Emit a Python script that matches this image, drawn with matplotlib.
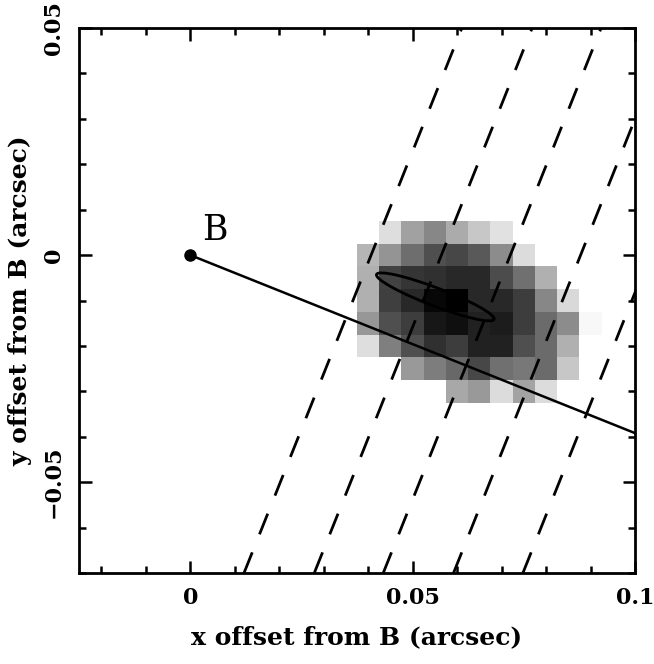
import numpy as np
import matplotlib
matplotlib.use("Agg")
import matplotlib.pyplot as plt
from matplotlib.patches import Ellipse
from matplotlib.ticker import FixedLocator, MultipleLocator

# ---- data ----
pix_x = [0.040, 0.045, 0.050, 0.055, 0.060, 0.065, 0.070, 0.075, 0.080, 0.085, 0.090]
pix_y = [0.005, 0.000, -0.005, -0.010, -0.015, -0.020, -0.025, -0.030]
# intensity (0 = white, 1 = black), rows follow pix_y, columns follow pix_x
flux = [
    [0.00, 0.13, 0.37, 0.47, 0.33, 0.22, 0.12, 0.00, 0.00, 0.00, 0.00],
    [0.29, 0.42, 0.57, 0.69, 0.72, 0.65, 0.45, 0.14, 0.00, 0.00, 0.00],
    [0.31, 0.74, 0.79, 0.81, 0.84, 0.84, 0.70, 0.56, 0.31, 0.00, 0.00],
    [0.31, 0.75, 0.84, 0.97, 1.00, 0.84, 0.84, 0.76, 0.47, 0.15, 0.00],
    [0.41, 0.69, 0.76, 0.91, 0.94, 0.87, 0.89, 0.76, 0.58, 0.45, 0.03],
    [0.13, 0.50, 0.69, 0.81, 0.76, 0.87, 0.87, 0.69, 0.58, 0.31, 0.00],
    [0.00, 0.00, 0.40, 0.51, 0.59, 0.72, 0.56, 0.53, 0.58, 0.22, 0.00],
    [0.00, 0.00, 0.00, 0.00, 0.34, 0.40, 0.14, 0.36, 0.14, 0.00, 0.00],
]

point_B = (0.0, 0.0)
point_label = "B"
solid_line_x = [0.0, 0.11]
solid_line_slope = -0.392

dashed_x_at_ymin = [0.0121, 0.0279, 0.0434, 0.0592, 0.0748]
dashed_slope = 2.45

ellipse_center = (0.0551, -0.0092)
ellipse_width = 0.0282
ellipse_height = 0.0040
ellipse_angle = -20.5

xlim = (-0.025, 0.1)
ylim = (-0.07, 0.05)
x_major = [0.0, 0.05, 0.1]
x_major_labels = ["0", "0.05", "0.1"]
y_major = [-0.05, 0.0, 0.05]
y_major_labels = ["\u22120.05", "0", "0.05"]
minor_step = 0.01
xlabel = "x offset from B (arcsec)"
ylabel = "y offset from B (arcsec)"

# ---- figure ----
fig = plt.figure(figsize=(6.54, 6.64), dpi=100)
ax = fig.add_axes([79/654, 1 - 573/664, (635-79)/654, (573-28)/664])

ax.pcolormesh(pix_x, pix_y, np.array(flux), cmap="gray_r", vmin=0, vmax=1,
              shading="nearest", zorder=1)

# dashed lines
yy = np.array([ylim[0], ylim[1]])
for x0 in dashed_x_at_ymin:
    xx = x0 + (yy - ylim[0]) / dashed_slope
    ax.plot(xx, yy, color="black", lw=2.0, linestyle=(0, (8, 7)),
            dash_capstyle="butt", zorder=3)

# solid line from B
sx = np.array(solid_line_x)
ax.plot(sx, solid_line_slope * sx, color="black", lw=1.8, zorder=4)
ax.plot([point_B[0]], [point_B[1]], "o", color="black", markersize=8, zorder=5)
ax.text(point_B[0] + 0.0026, point_B[1] + 0.0033, point_label,
        fontsize=25, family="DejaVu Serif", ha="left", va="baseline", zorder=6)

ell = Ellipse(ellipse_center, ellipse_width, ellipse_height, angle=ellipse_angle,
              fill=False, edgecolor="black", lw=2.0, zorder=4)
ax.add_patch(ell)

ax.set_xlim(*xlim)
ax.set_ylim(*ylim)

ax.xaxis.set_major_locator(FixedLocator(x_major))
ax.set_xticklabels(x_major_labels)
ax.yaxis.set_major_locator(FixedLocator(y_major))
ax.set_yticklabels(y_major_labels, rotation=90, va="center")
ax.xaxis.set_minor_locator(MultipleLocator(minor_step))
ax.yaxis.set_minor_locator(MultipleLocator(minor_step))

ax.tick_params(which="both", direction="in", top=True, right=True, width=1.8)
ax.tick_params(which="major", length=9, pad=10)
ax.tick_params(which="minor", length=5)
for lab in ax.get_xticklabels() + ax.get_yticklabels():
    lab.set_family("DejaVu Serif")
    lab.set_fontweight("bold")
    lab.set_fontsize(16)
for sp in ax.spines.values():
    sp.set_linewidth(2.0)

ax.set_xlabel(xlabel, fontsize=18, fontweight="bold", family="DejaVu Serif", labelpad=12)
ax.set_ylabel(ylabel, fontsize=18, fontweight="bold", family="DejaVu Serif", labelpad=8)

fig.savefig("out.png", dpi=100)
